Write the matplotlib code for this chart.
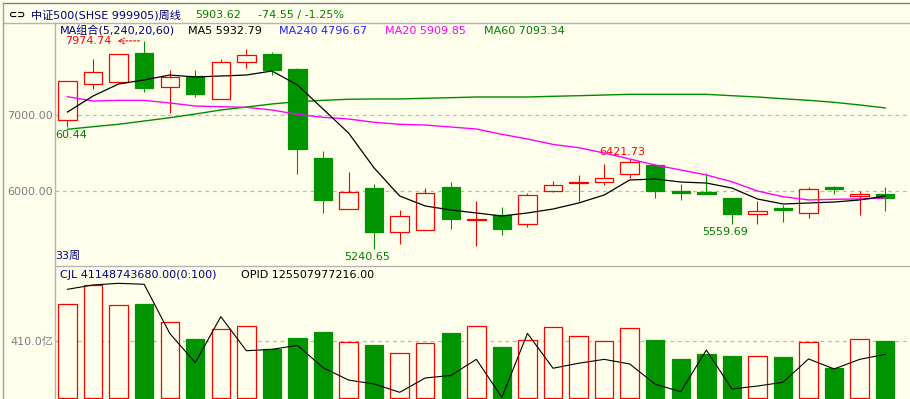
import matplotlib
matplotlib.use('Agg')
import numpy as np
import matplotlib.pyplot as plt
from matplotlib.lines import Line2D

plt.rcParams['font.family'] = ['DejaVu Sans', 'Noto Sans CJK SC']

# weekly candles, 中证500
opens = [6934, 7408, 7434, 7816, 7368, 7513, 7211, 7697, 7803, 7605, 6434,
         5763, 6039, 5461, 5487, 6053, 5612, 5684, 5566, 6000, 6105, 6118,
         6224, 6342, 5993, 5987, 5908, 5697, 5763, 5711, 6053, 5934, 5961]
highs = [7447, 7737, 7803, 7974.74, 7592, 7592, 7737, 7868, 7829, 7618, 6526,
         6250, 6092, 5750, 6039, 6118, 5868, 5789, 5974, 6132, 6210, 6355,
         6421.73, 6355, 6092, 6237, 5908, 5868, 5816, 6053, 6066, 6000, 6053]
lows = [6842, 7342, 7421, 7303, 7026, 7237, 7211, 7618, 7526, 6224, 5711,
        5763, 5240.65, 5303, 5487, 5500, 5276, 5421, 5526, 5987, 5868, 6079,
        6171, 5908, 5882, 5961, 5566, 5559.69, 5592, 5645, 5961, 5684, 5737]
closes = [7447, 7566, 7803, 7355, 7500, 7276, 7697, 7789, 7592, 6553, 5882,
          5987, 5461, 5671, 5974, 5632, 5625, 5500, 5947, 6079, 6118, 6171,
          6382, 6000, 5980, 5961, 5697, 5737, 5750, 6026, 6026, 5961, 5903.62]

ma5 = [7039, 7250, 7408, 7461, 7526, 7500, 7513, 7526, 7579, 7395, 7079,
       6763, 6303, 5934, 5803, 5750, 5711, 5671, 5711, 5763, 5842, 5947,
       6145, 6158, 6118, 6105, 6039, 5895, 5829, 5842, 5855, 5882, 5932.79]
ma20 = [7241, 7184, 7193, 7193, 7158, 7118, 7109, 7101, 7066, 7009, 6970,
        6947, 6904, 6878, 6868, 6842, 6816, 6746, 6684, 6613, 6570, 6500,
        6421, 6342, 6276, 6211, 6122, 6000, 5925, 5882, 5891, 5895, 5909.85]
ma60 = [6812, 6846, 6878, 6921, 6964, 7013, 7066, 7105, 7145, 7175, 7193,
        7207, 7211, 7211, 7220, 7228, 7237, 7237, 7237, 7246, 7254, 7263,
        7272, 7272, 7272, 7272, 7254, 7237, 7214, 7193, 7167, 7132, 7093.34]

# volume in 亿, plus the black OPID line (drawn on the same scale)
volume = [676, 813, 667, 678, 547, 424, 496, 516, 355, 434, 477, 403, 381,
          321, 396, 468, 516, 367, 415, 509, 444, 410, 501, 417, 281, 317,
          300, 300, 295, 403, 216, 422, 411.5]
opid = [782, 813, 825, 818, 465, 254, 585, 340, 350, 379, 218, 129, 101, 41,
        144, 162, 278, 5, 465, 214, 250, 278, 245, 99, 45, 345, 65, 86, 113,
        281, 209, 278, 314]

W, H = 910, 399
BG = '#ffffec'
RED = '#ff0000'
GREEN = '#009400'
NAVY = '#000080'
GRAY = '#7c7c8c'


def fx(x):
    return x / W


def fy(y):
    return 1 - y / H


fig = plt.figure(figsize=(9.1, 3.99), dpi=100, facecolor=BG)
ax = fig.add_axes([fx(55), fy(266), fx(910) - fx(55), fy(23) - fy(266)], facecolor=BG)
axv = fig.add_axes([fx(55), fy(399), fx(910) - fx(55), fy(266) - fy(399)], facecolor=BG)

n = len(closes)
idx = np.arange(n)
o = np.array(opens)
c = np.array(closes)
up = c >= o

# price panel
ax.vlines(idx, lows, highs, colors=[RED if u else GREEN for u in up], lw=0.8, zorder=2)
body_lo = np.minimum(o, c)
body_h = np.maximum(np.abs(c - o), 20)
ax.bar(idx, body_h, bottom=body_lo, width=0.72,
       facecolor=[BG if u else GREEN for u in up],
       edgecolor=[RED if u else GREEN for u in up], lw=0.9, zorder=3)
ax.plot(idx, ma60, color='#008c00', lw=1.0, zorder=4)
ax.plot(idx, ma20, color='#ff00ff', lw=1.0, zorder=4)
ax.plot(idx, ma5, color='black', lw=0.9, zorder=4)

ax.set_xlim(-0.489, 32.97)
ax.set_ylim(5013.2, 8210.5)
ax.set_xticks([])
ax.set_yticks([6000, 7000], labels=['6000.00', '7000.00'])
ax.tick_params(axis='y', length=0, pad=1.5, labelsize=8, labelcolor=GRAY)
ax.yaxis.grid(True, color='#b8b8b8', linestyle=(0, (3, 3)), lw=0.9)
ax.set_axisbelow(True)
for s in ax.spines.values():
    s.set_visible(False)

# high / low markers
ax.text(1.74, 7974.74, '7974.74', color=RED, fontsize=8, ha='right', va='center')
ax.annotate('', xy=(1.85, 7974.74), xytext=(2.93, 7974.74),
            arrowprops=dict(arrowstyle='->', color=RED, lw=0.8, linestyle=(0, (2, 1.5))))
ax.annotate('6421.73', xy=(21.7, 6421.73), xytext=(0, 2), textcoords='offset pixels',
            color=RED, fontsize=8, ha='center', va='bottom')
ax.annotate('5240.65', xy=(11.72, 5240.65), xytext=(0, -3), textcoords='offset pixels',
            color='#008000', fontsize=8, ha='center', va='top')
ax.annotate('5559.69', xy=(25.73, 5559.69), xytext=(0, -3), textcoords='offset pixels',
            color='#008000', fontsize=8, ha='center', va='top')

# volume panel
axv.bar(idx, volume, width=0.72,
        facecolor=[BG if u else GREEN for u in up],
        edgecolor=[RED if u else GREEN for u in up], lw=0.9, zorder=3)
axv.plot(idx, opid, color='black', lw=0.8, zorder=4)
axv.set_xlim(-0.489, 32.97)
axv.set_ylim(-7.2, 949.6)
axv.set_xticks([])
axv.set_yticks([410], labels=['410.0亿'])
axv.tick_params(axis='y', length=0, pad=1.5, labelsize=8, labelcolor=GRAY)
axv.yaxis.grid(True, color='#b8b8b8', linestyle=(0, (3, 3)), lw=0.9)
axv.set_axisbelow(True)
for s in axv.spines.values():
    s.set_visible(False)

# frame lines
fig.add_artist(Line2D([fx(3), 1], [fy(3), fy(3)], color='#808080', lw=1))
fig.add_artist(Line2D([fx(3), 1], [fy(23), fy(23)], color='#b4b4b4', lw=1))
fig.add_artist(Line2D([fx(3), fx(3)], [fy(3), 0], color='#a0a0a0', lw=1))
fig.add_artist(Line2D([fx(55), fx(55)], [fy(23), 0], color='#b4b4b4', lw=1))
fig.add_artist(Line2D([fx(55), 1], [fy(266), fy(266)], color='#b4b4b4', lw=1))

# title bar
fig.text(fx(9), fy(15), '⊂⊃', fontsize=7, fontweight='bold', color='black', va='center')
fig.text(fx(31), fy(15), '中证500(SHSE 999905)周线', fontsize=8, color=NAVY, va='center')
fig.text(fx(195), fy(15), '5903.62', fontsize=8, color='#008000', va='center')
fig.text(fx(258), fy(15), '-74.55 / -1.25%', fontsize=8, color='#008000', va='center')

# MA legend
fig.text(fx(60), fy(31), 'MA组合(5,240,20,60)', fontsize=8, color=NAVY, va='center')
fig.text(fx(188), fy(31), 'MA5 5932.79', fontsize=8, color='black', va='center')
fig.text(fx(279), fy(31), 'MA240 4796.67', fontsize=8, color='#2020ff', va='center')
fig.text(fx(385), fy(31), 'MA20 5909.85', fontsize=8, color='#ff00ff', va='center')
fig.text(fx(484), fy(31), 'MA60 7093.34', fontsize=8, color='#008000', va='center')

fig.text(fx(55), fy(135), '60.44', fontsize=8, color='#008000', va='center')
fig.text(fx(55), fy(256), '33周', fontsize=8, color=NAVY, va='center')

# volume legend
fig.text(fx(60), fy(275), 'CJL 41148743680.00(0:100)', fontsize=8, color=NAVY, va='center')
fig.text(fx(241), fy(275), 'OPID 125507977216.00', fontsize=8, color='black', va='center')

fig.savefig('out.png', dpi=100, facecolor=BG)
